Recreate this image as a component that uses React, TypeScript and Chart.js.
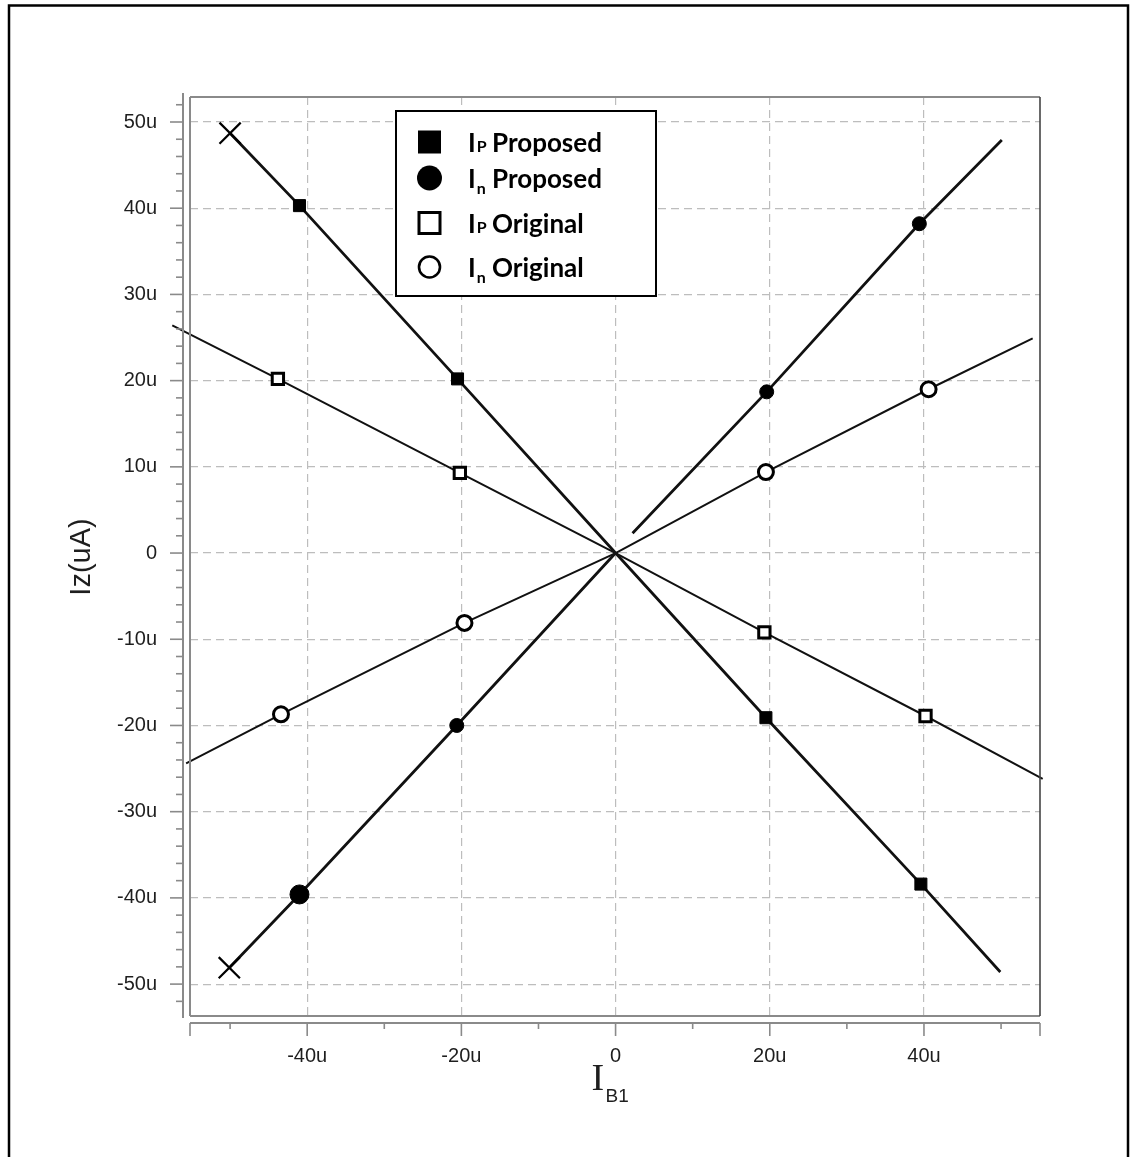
import { useEffect, useRef } from 'react';
import { Chart, registerables } from 'chart.js';

Chart.register(...registerables);

// Axis ticks
const xTickValues = [-40, -20, 0, 20, 40];
const xTickLabels = ['-40u', '-20u', '0', '20u', '40u'];
const yTickValues = [-50, -40, -30, -20, -10, 0, 10, 20, 30, 40, 50];
const yTickLabels = ['-50u', '-40u', '-30u', '-20u', '-10u', '0', '10u', '20u', '30u', '40u', '50u'];

// I_P proposed: swept trace and measured points (uA)
const ipPropTraceX = [-50, 0, 49.9];
const ipPropTraceY = [48.7, 0, -48.6];
const ipPropMarkX = [-41, -20.5, 19.5, 39.6];
const ipPropMarkY = [40.3, 20.2, -19.1, -38.4];

// I_n proposed (the trace has a short break just right of the origin)
const inPropTraceX = [-50.1, 0, 1.1, 2.2, 50.1];
const inPropTraceY = [-48.1, 0, null, 2.3, 47.9];
const inPropMarkX = [-41, -20.6, 19.6, 39.4];
const inPropMarkY = [-39.6, -20.0, 18.7, 38.2];

// I_P original
const ipOrigTraceX = [-57.5, 0, 55.4];
const ipOrigTraceY = [26.4, 0, -26.2];
const ipOrigMarkX = [-43.8, -20.2, 19.3, 40.2];
const ipOrigMarkY = [20.2, 9.3, -9.2, -18.9];

// I_n original
const inOrigTraceX = [-55.7, 0, 54.1];
const inOrigTraceY = [-24.4, 0, 24.9];
const inOrigMarkX = [-43.4, -19.6, 19.5, 40.6];
const inOrigMarkY = [-18.7, -8.1, 9.4, 19.0];

type Pt = { x: number; y: number | null };

const toPoints = (xs: number[], ys: (number | null)[]): Pt[] => xs.map((x, i) => ({ x, y: ys[i] }));
const tracePath = (tx: number[], ty: (number | null)[], mx: number[], my: number[]): Pt[] =>
  [...toPoints(tx, ty), ...toPoints(mx, my)].sort((a, b) => a.x - b.x);

const AXIS_GREY = '#8a8a8a';
const TEXT = '#1e1e1e';

const decorations = {
  id: 'decorations',
  afterDraw(chart: Chart) {
    const { ctx, chartArea: a } = chart;
    const x = chart.scales.x;
    const y = chart.scales.y;
    const seg = (x1: number, y1: number, x2: number, y2: number) => {
      ctx.beginPath();
      ctx.moveTo(x1, y1);
      ctx.lineTo(x2, y2);
      ctx.stroke();
    };
    ctx.save();

    // outer page frame
    ctx.strokeStyle = '#000';
    ctx.lineWidth = 2.5;
    ctx.strokeRect(9, 5.5, 1119, 1220);

    // plot frame
    ctx.strokeStyle = AXIS_GREY;
    ctx.lineWidth = 2;
    seg(a.left, a.top, a.right, a.top);
    seg(a.left, a.top, a.left, a.bottom);
    seg(a.left, a.bottom, a.right, a.bottom);
    ctx.strokeStyle = '#444';
    ctx.lineWidth = 1.6;
    seg(a.right, a.top, a.right, a.bottom);

    // detached y axis with major / minor ticks
    ctx.strokeStyle = AXIS_GREY;
    ctx.lineWidth = 2;
    const ax = a.left - 7;
    seg(ax, a.top - 4, ax, a.bottom + 2);
    ctx.lineWidth = 1.6;
    for (let v = -52; v <= 52; v += 2) {
      const py = y.getPixelForValue(v);
      const len = v % 10 === 0 ? 13 : 7;
      seg(ax - len, py, ax, py);
    }

    // detached x axis with major / minor ticks
    ctx.lineWidth = 2;
    const ay = a.bottom + 7;
    seg(a.left, ay, a.right, ay);
    ctx.lineWidth = 1.6;
    for (let v = -50; v <= 50; v += 10) {
      const px = x.getPixelForValue(v);
      const len = v % 20 === 0 ? 13 : 6;
      seg(px, ay, px, ay + len);
    }
    seg(a.left, ay, a.left, ay + 13);
    seg(a.right, ay, a.right, ay + 13);

    // axis titles
    ctx.fillStyle = TEXT;
    ctx.save();
    ctx.translate(82, (a.top + a.bottom) / 2 + 0.5);
    ctx.rotate(-Math.PI / 2);
    ctx.font = '29px "Liberation Sans", Arial, sans-serif';
    ctx.textAlign = 'center';
    ctx.textBaseline = 'middle';
    ctx.fillText('Iz(uA)', 0, 0);
    ctx.restore();

    const cx = x.getPixelForValue(0);
    ctx.textAlign = 'left';
    ctx.textBaseline = 'alphabetic';
    ctx.font = '38px "Liberation Serif", "Times New Roman", serif';
    ctx.fillText('I', cx - 24, 1090);
    ctx.font = '19px "Liberation Sans", Arial, sans-serif';
    ctx.fillText('B1', cx - 10, 1102);

    // legend
    const lx = a.left + 206;
    const ly = a.top + 14;
    ctx.fillStyle = '#fff';
    ctx.fillRect(lx, ly, 260, 185);
    ctx.strokeStyle = '#000';
    ctx.lineWidth = 2;
    ctx.strokeRect(lx, ly, 260, 185);

    const symX = lx + 33.5;
    const rows = [
      { base: ly + 41, sub: 'P', subDrop: 0, word: 'Proposed', sym: 'rectFill' },
      { base: ly + 77, sub: 'n', subDrop: 6, word: 'Proposed', sym: 'circleFill' },
      { base: ly + 122, sub: 'P', subDrop: 0, word: 'Original', sym: 'rectOpen' },
      { base: ly + 166, sub: 'n', subDrop: 6, word: 'Original', sym: 'circleOpen' },
    ];
    rows.forEach((r) => {
      const cy = r.base - 10;
      ctx.fillStyle = '#000';
      ctx.strokeStyle = '#000';
      if (r.sym === 'rectFill') {
        ctx.fillRect(symX - 11.5, cy - 11.5, 23, 23);
      } else if (r.sym === 'circleFill') {
        ctx.beginPath();
        ctx.arc(symX, cy, 12.5, 0, Math.PI * 2);
        ctx.fill();
      } else if (r.sym === 'rectOpen') {
        ctx.lineWidth = 3;
        ctx.strokeRect(symX - 10.5, cy - 10.5, 21, 21);
      } else {
        ctx.lineWidth = 2.6;
        ctx.beginPath();
        ctx.arc(symX, cy, 10.5, 0, Math.PI * 2);
        ctx.stroke();
      }
      ctx.textAlign = 'left';
      ctx.textBaseline = 'alphabetic';
      ctx.font = 'bold 26px Lato, "Open Sans", sans-serif';
      ctx.fillText('I', lx + 72, r.base);
      const iw = ctx.measureText('I').width;
      ctx.font = 'bold 16px Lato, "Open Sans", sans-serif';
      ctx.fillText(r.sub, lx + 72 + iw + 1, r.base + r.subDrop);
      ctx.font = 'bold 26px Lato, "Open Sans", sans-serif';
      ctx.fillText(r.word, lx + 96, r.base);
    });

    ctx.restore();
  },
};

export default function App() {
  const canvasRef = useRef<HTMLCanvasElement | null>(null);

  useEffect(() => {
    const canvas = canvasRef.current;
    if (!canvas) return;

    const lineDs = (data: Pt[], width: number, clip: boolean) => ({
      type: 'scatter' as const,
      data,
      showLine: true,
      borderColor: '#111',
      borderWidth: width,
      pointRadius: 0,
      pointHoverRadius: 0,
      spanGaps: false,
      clip: clip ? undefined : false,
      order: 2,
    });

    const datasets: any[] = [
      // measured markers (drawn on top)
      {
        data: toPoints(ipPropMarkX, ipPropMarkY),
        pointStyle: 'rect',
        pointRadius: 8.5,
        backgroundColor: '#000',
        borderColor: '#000',
        borderWidth: 1,
        order: 0,
      },
      {
        data: toPoints(inPropMarkX, inPropMarkY),
        pointStyle: 'circle',
        pointRadius: [9.5, 7, 7, 7],
        backgroundColor: '#000',
        borderColor: '#000',
        borderWidth: 1,
        order: 0,
      },
      {
        data: toPoints(ipOrigMarkX, ipOrigMarkY),
        pointStyle: 'rect',
        pointRadius: 8,
        backgroundColor: '#fff',
        borderColor: '#000',
        borderWidth: 3,
        order: 0,
      },
      {
        data: toPoints(inOrigMarkX, inOrigMarkY),
        pointStyle: 'circle',
        pointRadius: 7.5,
        backgroundColor: '#fff',
        borderColor: '#000',
        borderWidth: 3,
        order: 0,
      },
      // sweep start crosses on the proposed traces
      {
        data: [
          { x: ipPropTraceX[0], y: ipPropTraceY[0] },
          { x: inPropTraceX[0], y: inPropTraceY[0] },
        ],
        pointStyle: 'crossRot',
        pointRadius: 15,
        borderColor: '#000',
        borderWidth: 2.2,
        order: 0,
      },
      // traces
      lineDs(tracePath(ipPropTraceX, ipPropTraceY, ipPropMarkX, ipPropMarkY), 2.8, true),
      lineDs(tracePath(inPropTraceX, inPropTraceY, inPropMarkX, inPropMarkY), 2.8, true),
      lineDs(tracePath(ipOrigTraceX, ipOrigTraceY, ipOrigMarkX, ipOrigMarkY), 2, false),
      lineDs(tracePath(inOrigTraceX, inOrigTraceY, inOrigMarkX, inOrigMarkY), 2, false),
    ];

    const tickFont = { family: '"Liberation Sans", Arial, sans-serif', size: 20 };

    const chart = new Chart(canvas, {
      type: 'scatter',
      data: { datasets },
      options: {
        responsive: false,
        animation: false,
        events: [],
        layout: { padding: { left: 0, top: 97, right: 90, bottom: 0 } },
        plugins: { legend: { display: false }, tooltip: { enabled: false } },
        scales: {
          x: {
            type: 'linear',
            min: -55.2,
            max: 55.05,
            afterBuildTicks: (s: any) => {
              s.ticks = xTickValues.map((value) => ({ value }));
            },
            afterFit: (s: any) => {
              s.height = 141;
            },
            grid: { color: '#bdbdbd', lineWidth: 1.2, drawTicks: false },
            border: { display: false, dash: [8, 5] },
            ticks: {
              padding: 28,
              color: TEXT,
              font: tickFont,
              maxRotation: 0,
              callback: (v: any) => xTickLabels[xTickValues.indexOf(Number(v))] ?? '',
            },
          },
          y: {
            type: 'linear',
            min: -53.7,
            max: 52.9,
            afterBuildTicks: (s: any) => {
              s.ticks = yTickValues.map((value) => ({ value }));
            },
            afterFit: (s: any) => {
              s.width = 190;
            },
            grid: { color: '#bdbdbd', lineWidth: 1.2, drawTicks: false },
            border: { display: false, dash: [8, 5] },
            ticks: {
              padding: 33,
              color: TEXT,
              font: tickFont,
              callback: (v: any) => yTickLabels[yTickValues.indexOf(Number(v))] ?? '',
            },
          },
        },
      },
      plugins: [decorations],
    } as any);

    return () => chart.destroy();
  }, []);

  return (
    <div style={{ position: 'absolute', left: 0, top: 0, width: 1130, height: 1157, overflow: 'hidden', background: '#fff' }}>
      <canvas ref={canvasRef} width={1130} height={1157} style={{ display: 'block' }} />
    </div>
  );
}
